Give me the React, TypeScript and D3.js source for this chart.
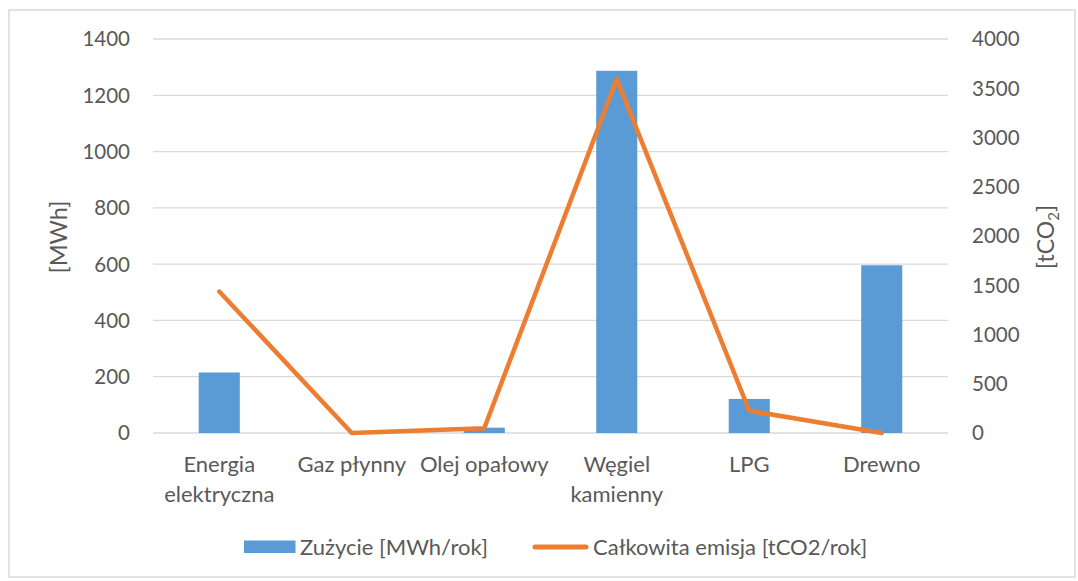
import React from "react";
import * as d3 from "d3";

const categories: string[][] = [
  ["Energia", "elektryczna"],
  ["Gaz płynny"],
  ["Olej opałowy"],
  ["Węgiel", "kamienny"],
  ["LPG"],
  ["Drewno"],
];
const consumption: number[] = [215, 0, 19, 1287, 121, 596];
const emission: number[] = [1436, 0, 48, 3593, 226, 0];
const leftTicks: number[] = [0, 200, 400, 600, 800, 1000, 1200, 1400];
const rightTicks: number[] = [0, 500, 1000, 1500, 2000, 2500, 3000, 3500, 4000];
const seriesNames: string[] = ["Zużycie [MWh/rok]", "Całkowita emisja [tCO2/rok]"];

const W = 1078;
const H = 581;
const plot = { left: 153, right: 948, top: 39, bottom: 433 };
const FONT = "Lato, 'Open Sans', sans-serif";
const TEXT = "#595959";
const FS_TICK = 20.5;
const FS_TEXT = 22;

export default function App() {
  const idx = categories.map((_, i) => String(i));
  const x = d3.scaleBand<string>().domain(idx).range([plot.left, plot.right]).paddingInner(0).paddingOuter(0);
  const yL = d3.scaleLinear().domain([0, 1400]).range([plot.bottom, plot.top]);
  const yR = d3.scaleLinear().domain([0, 4000]).range([plot.bottom, plot.top]);
  const barW = x.bandwidth() * 0.31;
  const cx = (i: number) => (x(String(i)) as number) + x.bandwidth() / 2;
  const line = d3
    .line<number>()
    .x((_, i) => cx(i))
    .y((d) => yR(d));

  return (
    <svg
      width={W}
      height={H}
      style={{ position: "absolute", left: 0, top: 0, display: "block", background: "#fff" }}
      fontFamily={FONT}
    >
      <rect x={9} y={10} width={1066} height={567} fill="#fff" stroke="#d9d9d9" strokeWidth={1.5} />
      {leftTicks.map((t) => (
        <line key={"g" + t} x1={plot.left} x2={plot.right} y1={yL(t)} y2={yL(t)} stroke="#d9d9d9" strokeWidth={1.3} />
      ))}
      {leftTicks.map((t) => (
        <text key={"l" + t} x={130} y={yL(t)} dy="0.36em" textAnchor="end" fontSize={FS_TICK} fill={TEXT}>
          {t}
        </text>
      ))}
      {rightTicks.map((t) => (
        <text key={"r" + t} x={972} y={yR(t)} dy="0.36em" textAnchor="start" fontSize={FS_TICK} fill={TEXT}>
          {t}
        </text>
      ))}
      {consumption.map((v, i) => (
        <rect key={"b" + i} x={cx(i) - barW / 2} y={yL(v)} width={barW} height={plot.bottom - yL(v)} fill="#5B9BD5" />
      ))}
      <path d={line(emission) || ""} fill="none" stroke="#ED7D31" strokeWidth={4.5} strokeLinejoin="round" strokeLinecap="round" />
      {categories.map((lines, i) => (
        <text key={"c" + i} x={cx(i)} textAnchor="middle" fontSize={FS_TEXT} fill={TEXT}>
          {lines.map((ln, j) => (
            <tspan key={j} x={cx(i)} y={472 + j * 30}>
              {ln}
            </tspan>
          ))}
        </text>
      ))}
      <text transform={`translate(67,237) rotate(-90)`} textAnchor="middle" fontSize={23.5} fill={TEXT}>
        [MWh]
      </text>
      <text transform={`translate(1054,237) rotate(-90)`} textAnchor="middle" fontSize={23} fill={TEXT}>
        [tCO<tspan fontSize={15} dy={5}>2</tspan>
        <tspan dy={-5}>]</tspan>
      </text>
      <rect x={244} y={540.5} width={51.5} height={12.5} fill="#5B9BD5" />
      <text x={300} y={547} dy="0.36em" fontSize={FS_TEXT} fill={TEXT}>
        {seriesNames[0]}
      </text>
      <line x1={535} x2={586} y1={547} y2={547} stroke="#ED7D31" strokeWidth={5} strokeLinecap="round" />
      <text x={593} y={547} dy="0.36em" fontSize={FS_TEXT} fill={TEXT}>
        {seriesNames[1]}
      </text>
    </svg>
  );
}
